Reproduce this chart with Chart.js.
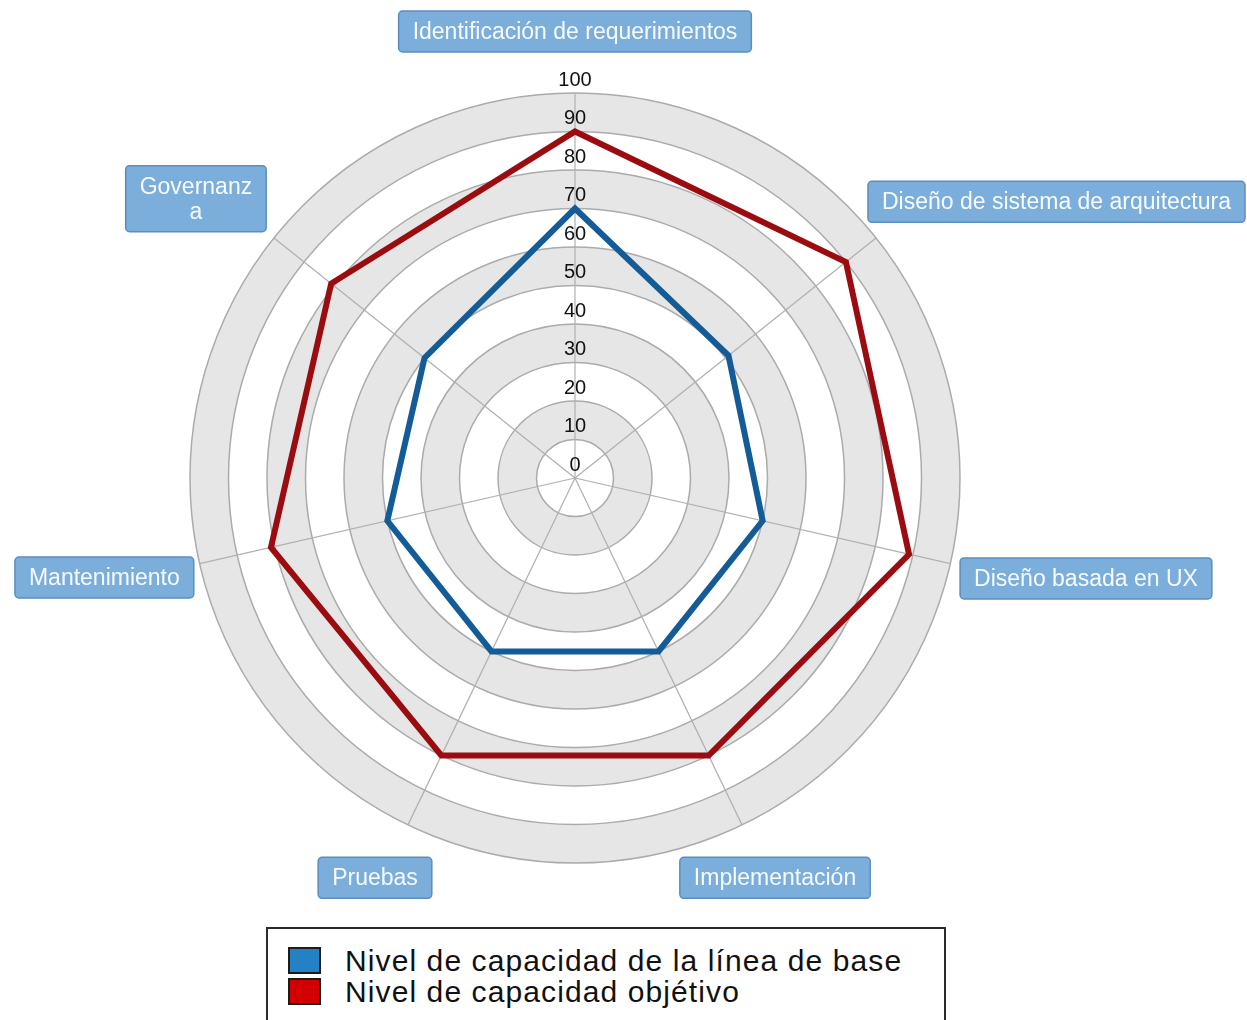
<!DOCTYPE html>
<html>
<head>
<meta charset="utf-8">
<script src="https://cdn.jsdelivr.net/npm/chart.js@4.4.1/dist/chart.umd.min.js"></script>
<style>
    html, body { margin: 0; padding: 0; background: #fff; }
    #wrap { position: relative; width: 1247px; height: 1020px; overflow: hidden; }
    #legend {
        position: absolute; left: 266px; top: 927px; width: 680px; height: 110px;
        box-sizing: border-box; border: 2px solid #2b2b2b; background: #fff;
        padding: 16px 0 0 20px;
        font-family: 'Liberation Sans', Arial, sans-serif; font-size: 30px; letter-spacing: 1.1px; color: #111;
    }
    #legend .item { display: flex; align-items: center; height: 31px; }
    #legend .swatch { width: 33px; height: 27px; box-sizing: border-box; border: 2px solid #1c1c1c; margin-right: 24px; flex: none; }
</style>
</head>
<body>
<div id="wrap">
    <canvas id="radar" width="1247" height="1020"></canvas>
    <div id="legend"></div>
</div>
<script>
const categories = [
    'Identificación de requerimientos',
    'Diseño de sistema de arquitectura',
    'Diseño basada en UX',
    'Implementación',
    'Pruebas',
    'Mantenimiento',
    ['Governanz', 'a'],
];
const seriesNames = ['Nivel de capacidad de la línea de base', 'Nivel de capacidad objétivo'];
const baseline = [70, 51, 50, 50, 50, 50, 50];
const target = [90, 90, 89, 80, 80, 81, 81];
const scaleMin = 0;
const scaleMax = 100;
const scaleStep = 10;

// gap between outer ring and each category box
const LABEL_GAP = [41, 25, 10, 36, 36, 6, 10];

const FONT = "'Liberation Sans', Arial, sans-serif";

// alternating grey / white rings under the grid
const ringBands = {
    id: 'ringBands',
    beforeDraw(chart) {
        const scale = chart.scales.r;
        const ctx = chart.ctx;
        ctx.save();
        for (let k = scale.ticks.length - 1; k > 0; k--) {
            const rad = scale.getDistanceFromCenterForValue(scale.ticks[k].value);
            ctx.beginPath();
            ctx.arc(scale.xCenter, scale.yCenter, rad, 0, Math.PI * 2);
            ctx.fillStyle = k % 2 === 0 ? '#e6e6e6' : '#ffffff';
            ctx.fill();
        }
        ctx.restore();
    },
};

// tick numbers sit a little above each ring, including 0
const tickNumbers = {
    id: 'tickNumbers',
    afterDatasetsDraw(chart) {
        const scale = chart.scales.r;
        const ctx = chart.ctx;
        ctx.save();
        ctx.font = '20px ' + FONT;
        ctx.fillStyle = '#111';
        ctx.textAlign = 'center';
        ctx.textBaseline = 'middle';
        scale.ticks.forEach((tick) => {
            const d = scale.getDistanceFromCenterForValue(tick.value);
            ctx.fillText(tick.label, scale.xCenter, scale.yCenter - d - 13);
        });
        ctx.restore();
    },
};

// category names in blue rounded boxes
const categoryBoxes = {
    id: 'categoryBoxes',
    afterDraw(chart) {
        const scale = chart.scales.r;
        const ctx = chart.ctx;
        const padX = 14;
        const padY = 8;
        const lineH = 25;
        ctx.save();
        ctx.font = '23px ' + FONT;
        chart.data.labels.forEach((label, i) => {
            const lines = Array.isArray(label) ? label : [label];
            const angle = scale.getIndexAngle(i);
            const sin = Math.sin(angle);
            const cos = Math.cos(angle);
            const pos = scale.getPointPosition(i, scale.drawingArea + LABEL_GAP[i]);
            const textW = Math.max(...lines.map((l) => ctx.measureText(l).width));
            const w = textW + padX * 2;
            const h = lines.length * lineH + padY * 2;

            let x = sin > 0.6 ? pos.x : sin < -0.6 ? pos.x - w : pos.x - w / 2 + sin * 40;
            let y = cos > 0.3 ? pos.y - h : cos < -0.3 ? pos.y : pos.y - padY;
            x = Math.max(4, Math.min(x, chart.width - w - 2));

            ctx.beginPath();
            ctx.roundRect(x, y, w, h, 4);
            ctx.fillStyle = '#7caedb';
            ctx.fill();
            ctx.lineWidth = 1.5;
            ctx.strokeStyle = '#5c8dbf';
            ctx.stroke();

            ctx.fillStyle = '#f7fbff';
            ctx.textAlign = 'center';
            ctx.textBaseline = 'middle';
            lines.forEach((l, j) => {
                ctx.fillText(l, x + w / 2, y + padY + lineH * (j + 0.5) + 1);
            });
        });
        ctx.restore();
    },
};

const ctx = document.getElementById('radar');
const chart = new Chart(ctx, {
    type: 'radar',
    data: {
        labels: categories,
        datasets: [
            {
                label: seriesNames[0],
                data: baseline,
                borderColor: '#145c98',
                backgroundColor: '#2381c4',
                borderWidth: 6,
                borderJoinStyle: 'miter',
                pointRadius: 0,
                fill: false,
            },
            {
                label: seriesNames[1],
                data: target,
                borderColor: '#9b0c10',
                backgroundColor: '#d30000',
                borderWidth: 6,
                borderJoinStyle: 'miter',
                pointRadius: 0,
                fill: false,
            },
        ],
    },
    options: {
        responsive: false,
        devicePixelRatio: 1,
        animation: false,
        layout: {
            padding: { top: 93, bottom: 157, left: 100, right: 197 },
        },
        plugins: {
            legend: { display: false },
            tooltip: { enabled: false },
        },
        scales: {
            r: {
                min: scaleMin,
                max: scaleMax,
                ticks: { stepSize: scaleStep, display: false },
                grid: { circular: true, color: '#ababab', lineWidth: 1.5 },
                angleLines: { color: '#b0b0b0', lineWidth: 1.2 },
                pointLabels: { display: false },
            },
        },
    },
    plugins: [ringBands, tickNumbers, categoryBoxes],
});

// legend box below the chart
const legendEl = document.getElementById('legend');
chart.data.datasets.forEach((ds) => {
    const item = document.createElement('div');
    item.className = 'item';
    const sw = document.createElement('span');
    sw.className = 'swatch';
    sw.style.background = ds.backgroundColor;
    const txt = document.createElement('span');
    txt.textContent = ds.label;
    item.appendChild(sw);
    item.appendChild(txt);
    legendEl.appendChild(item);
});
</script>
</body>
</html>
